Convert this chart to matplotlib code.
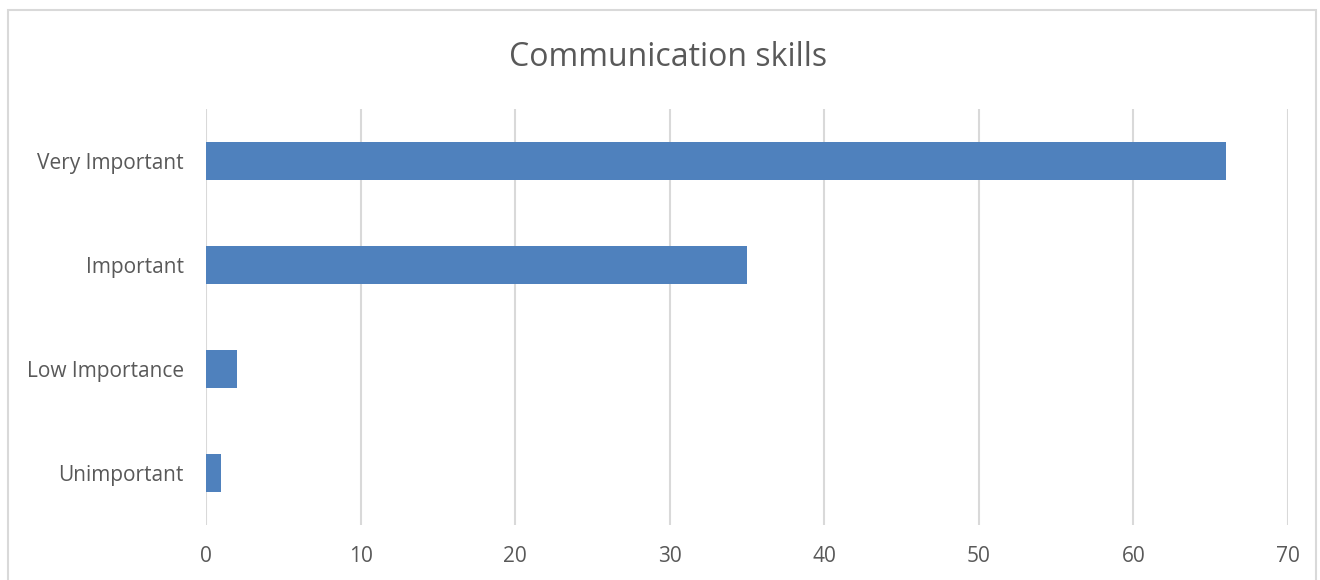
import matplotlib.pyplot as plt
from matplotlib.patches import Rectangle

plt.rcParams['font.family'] = ['Open Sans', 'DejaVu Sans']

categories = ['Very Important', 'Important', 'Low Importance', 'Unimportant']
counts = [66, 35, 2, 1]
xticks = [0, 10, 20, 30, 40, 50, 60, 70]

bar_color = '#4F81BD'
text_color = '#595959'
grid_color = '#D9D9D9'

fig = plt.figure(figsize=(13.2, 5.8), dpi=100)
# chart frame
fig.patches.append(Rectangle((8 / 1320, -0.05), (1316 - 8) / 1320, 1.05 - 10 / 580,
                             transform=fig.transFigure, fill=False,
                             edgecolor='#D9D9D9', linewidth=1.5))

ax = fig.add_axes([206 / 1320, 1 - 525 / 580, (1288 - 206) / 1320, (525 - 109) / 580])
ax.barh(range(len(categories)), counts, height=0.36, color=bar_color, zorder=3)

ax.set_ylim(3.5, -0.5)
ax.set_xlim(0, 70)
ax.set_xticks(xticks)
ax.set_yticks(range(len(categories)))
ax.set_yticklabels(categories)
ax.tick_params(axis='both', length=0, colors=text_color, labelsize=15)
ax.tick_params(axis='x', pad=15)
ax.tick_params(axis='y', pad=16)
ax.grid(axis='x', color=grid_color, linewidth=1.5, zorder=0)
for s in ax.spines.values():
    s.set_visible(False)

fig.text((508 + 828) / 2 / 1320, 1 - 57 / 580, 'Communication skills',
         ha='center', va='center', fontsize=23, color=text_color)

fig.savefig('out.png', dpi=100)
